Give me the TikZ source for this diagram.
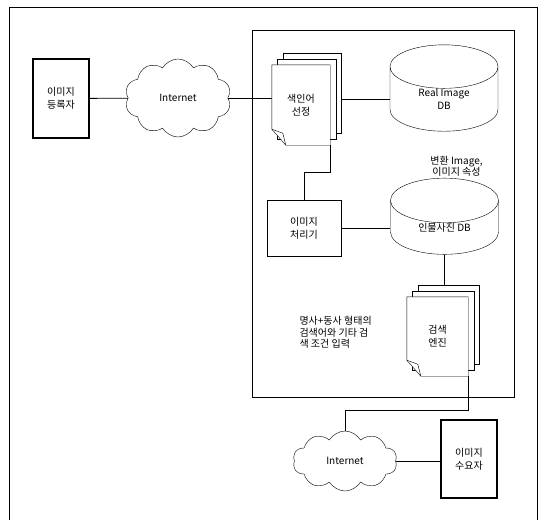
\documentclass[tikz,border=0pt]{standalone}
\usepackage{fontspec}
\setmainfont{Noto Sans CJK KR}
\usetikzlibrary{shapes.geometric, shapes.symbols, positioning}

% stack of pages behind a node, front page with a folded corner
\newcommand{\pagestack}[1]{%
  \foreach \k in {2,1}{
    \draw[fill=white] ([xshift=\k*5.5pt, yshift=\k*6pt]#1.south west)
      rectangle ([xshift=\k*5.5pt, yshift=\k*6pt]#1.north east);
  }
  \draw[fill=white] ([yshift=16pt]#1.south west) -- (#1.north west)
    -- (#1.north east) -- (#1.south east) -- ([xshift=14pt]#1.south west) -- cycle;
  \draw ([yshift=16pt]#1.south west) -- ([xshift=11pt, yshift=12pt]#1.south west)
    -- ([xshift=14pt]#1.south west);
}

\begin{document}
\begin{tikzpicture}[x=1pt, y=-1pt,
    every node/.style={align=center, font=\fontsize{10}{13}\selectfont},
    user/.style={rectangle, draw, line width=1.4pt, inner sep=0pt,
                 minimum width=56pt, minimum height=79pt},
    tool/.style={rectangle, draw, inner sep=0pt,
                 minimum width=74pt, minimum height=56pt},
    net/.style={cloud, draw, cloud puffs=10, cloud puff arc=120,
                cloud ignores aspect, inner sep=0pt,
                minimum width=106pt, minimum height=78pt},
    dbase/.style={cylinder, draw, shape border rotate=90, aspect=0.85,
                  inner sep=0pt, minimum width=108pt, minimum height=68pt},
    page/.style={rectangle, inner sep=0pt, minimum width=58pt, minimum height=80pt},
    link/.style={line width=0.8pt}
]
    \useasboundingbox (0,0) rectangle (538,520);
    \draw (9,520) -- (9,7) -- (537,7) -- (537,520);

    \node[draw, minimum width=262pt, minimum height=367pt] (server) at (383,213.5) {};

    \node[user]  (reg)  at (61,98.5)  {이미지\\등록자};
    \node[net]   (net1) at (178,98)   {Internet};

    \node[page]  (idx)  at (301,105)  {};
    \pagestack{idx}
    \node (idxtext) at (idx) {색인어\\선정};
    \coordinate (idxright) at ([xshift=11pt]idx.east);

    \node[dbase] (rdb)  at (444,99)   {Real Image\\DB};
    \node[tool]  (proc) at (304,228)  {이미지\\처리기};
    \node[dbase] (pdb)  at (444.5,227.5) {인물사진 DB};
    \node[above=0pt of pdb, xshift=12pt, inner sep=1pt,
          font=\fontsize{10}{10.5}\selectfont] (attr) {변환 Image,\\이미지 속성};

    \node[page, minimum width=61pt, minimum height=79pt] (srch) at (437.5,336.5) {};
    \pagestack{srch}
    \node (srchtext) at (srch) {검색\\엔진};
    \coordinate (srchtop) at ([yshift=12pt]srch.north);

    \node[font=\fontsize{10}{11.5}\selectfont, align=left, anchor=north west]
        (query) at (296,313) {명사+동사 형태의\\검색어와 기타 검\\색 조건 입력};

    \node[net, minimum width=104pt, minimum height=60pt, inner ysep=14pt] (net2) at (345,461) {Internet};
    \node[user, minimum height=78pt] (dem) at (469,459) {이미지\\수요자};

    \draw[link] (reg) -- (net1);
    \draw[link] (net1.east) -- (net1.east -| idx.west);
    \draw[link] (rdb.west) -- (rdb.west -| idxright);
    \draw[link] (idx.south east) -- ++(0,27) -| (proc.north);
    \draw[link] (proc.east) -- (proc.east -| pdb.west);
    \draw[link] (pdb.south) -- (pdb.south |- srchtop);
    \draw[link] (srch.south east) -- ++(0,34) -| (net2.north);
    \draw[link] (net2.east) -- (net2.east -| dem.west);
\end{tikzpicture}
\end{document}
